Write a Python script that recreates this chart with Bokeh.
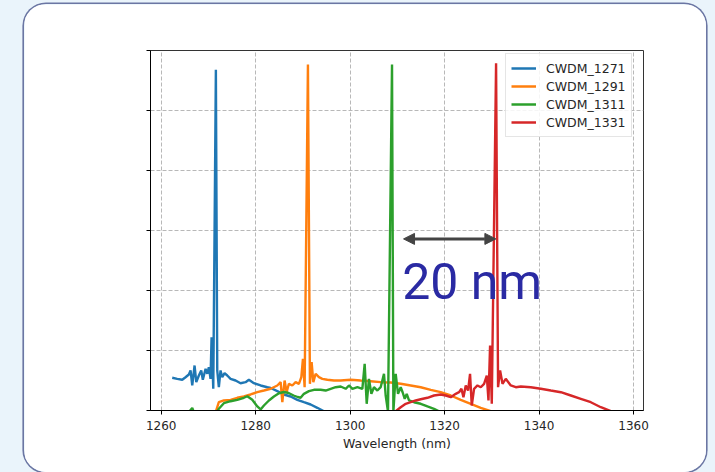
from bokeh.plotting import figure
from bokeh.models import (Arrow, NormalHead, Label, Legend, LegendItem,
                          FixedTicker, Range1d, GlobalInlineStyleSheet)
from bokeh.embed import file_html
from bokeh.resources import INLINE

# ---------------- data ----------------
wl_1271 = [1262.33, 1263.39, 1264.45, 1265.15, 1265.85, 1266.21, 1266.57, 1267.06, 1267.42, 1267.97,
           1268.47, 1268.81, 1269.39, 1269.75, 1270.08, 1270.44, 1270.66, 1271.02, 1271.57, 1271.86,
           1272.2, 1272.56, 1272.92, 1273.41, 1273.98, 1274.68, 1275.74, 1276.8, 1277.86, 1278.56,
           1279.62, 1281.04, 1282.46, 1283.16, 1284.58, 1285.97, 1287.39, 1288.81, 1290.21, 1291.63,
           1293.05, 1294.45, 1295.87]
pw_1271 = [0.545, 0.528, 0.512, 0.555, 0.6, 0.667, 0.417, 0.75, 0.472, 0.583,
           0.667, 0.512, 0.695, 0.612, 0.722, 0.528, 1.222, 0.362, 5.678, 0.667,
           0.388, 0.667, 0.555, 0.622, 0.583, 0.528, 0.5, 0.455, 0.472, 0.512,
           0.455, 0.417, 0.388, 0.375, 0.322, 0.267, 0.233, 0.178, 0.138, 0.1,
           0.045, -0.012, -0.07]

wl_1291 = [1271.5, 1272.2, 1273.26, 1274.68, 1276.1, 1277.5, 1278.92, 1280.34, 1281.74, 1283.16,
           1284.58, 1285.28, 1285.64, 1286.12, 1286.55, 1287.03, 1287.75, 1288.45, 1289.15, 1289.66,
           1290.0, 1290.36, 1291.06, 1291.48, 1291.84, 1292.2, 1292.69, 1293.39, 1294.11, 1295.17,
           1296.57, 1297.99, 1300.11, 1302.22, 1304.34, 1306.46, 1308.58, 1310.7, 1312.82, 1314.94,
           1317.06, 1319.17, 1321.29, 1323.41, 1325.53, 1327.65, 1329.77, 1331.25]
pw_1291 = [-0.033, 0.138, 0.167, 0.178, 0.212, 0.233, 0.267, 0.305, 0.333, 0.362,
           0.417, 0.472, 0.138, 0.5, 0.305, 0.445, 0.417, 0.472, 0.445, 0.555,
           0.862, 0.388, 5.767, 0.445, 0.805, 0.472, 0.612, 0.555, 0.528, 0.512,
           0.5, 0.5, 0.512, 0.5, 0.488, 0.472, 0.467, 0.445, 0.417, 0.388,
           0.345, 0.305, 0.25, 0.178, 0.112, 0.045, -0.012, -0.07]

wl_1311 = [1265.78, 1266.57, 1267.27, 1271.5, 1272.2, 1273.26, 1274.68, 1276.1, 1277.5, 1278.22,
           1279.28, 1280.34, 1281.04, 1281.74, 1282.8, 1283.86, 1284.92, 1285.97, 1286.97, 1288.03,
           1288.88, 1289.51, 1290.21, 1291.27, 1292.33, 1293.75, 1294.81, 1295.87, 1296.93, 1297.99,
           1299.05, 1299.75, 1300.47, 1301.53, 1302.58, 1303.07, 1303.5, 1303.98, 1304.49, 1305.04,
           1305.76, 1306.46, 1307.16, 1307.52, 1308.01, 1308.86, 1309.15, 1309.64, 1310.13, 1310.7,
           1311.12, 1311.55, 1311.97, 1312.46, 1313.52, 1314.94, 1316.36, 1317.75, 1318.81, 1320.23]
pw_1311 = [-0.033, 0.042, -0.1, -0.05, 0.028, 0.122, 0.155, 0.178, 0.212, 0.238,
           0.178, 0.067, 0.017, 0.083, 0.167, 0.233, 0.288, 0.308, 0.292, 0.25,
           0.225, 0.212, 0.278, 0.322, 0.345, 0.345, 0.333, 0.362, 0.388, 0.4,
           0.362, 0.417, 0.362, 0.388, 0.362, 0.778, 0.112, 0.528, 0.278, 0.388,
           0.333, 0.388, 0.612, 0.25, -0.017, 5.767, -0.017, 0.612, 0.278, 0.388,
           0.3, 0.195, 0.278, 0.167, 0.138, 0.112, 0.067, 0.028, -0.012, -0.07]

wl_1331 = [1309.64, 1310.7, 1311.76, 1312.82, 1313.88, 1314.94, 1316.36, 1317.75, 1319.17, 1320.23,
           1321.29, 1322.35, 1323.05, 1323.56, 1323.98, 1324.47, 1324.96, 1325.38, 1325.74, 1326.23,
           1326.95, 1327.65, 1328.35, 1328.92, 1329.28, 1329.62, 1329.98, 1330.89, 1331.31, 1331.74,
           1332.25, 1332.94, 1334.0, 1335.06, 1336.12, 1338.24, 1340.36, 1342.48, 1344.6, 1346.72,
           1348.83, 1350.95, 1353.07, 1355.19, 1356.25]
pw_1331 = [-0.012, 0.055, 0.112, 0.138, 0.167, 0.188, 0.212, 0.25, 0.267, 0.25,
           0.222, 0.278, 0.305, 0.362, 0.222, 0.417, 0.333, 0.612, 0.083, 0.362,
           0.417, 0.388, 0.445, 0.583, 0.167, 1.083, 0.112, 5.788, 0.388, 0.667,
           0.445, 0.528, 0.417, 0.388, 0.4, 0.388, 0.362, 0.333, 0.305, 0.25,
           0.195, 0.138, 0.055, -0.012, -0.07]

series_names = ["CWDM_1271", "CWDM_1291", "CWDM_1311", "CWDM_1331"]
series_colors = ["#1f77b4", "#ff7f0e", "#2ca02c", "#d62728"]
series_x = [wl_1271, wl_1291, wl_1311, wl_1331]
series_y = [pw_1271, pw_1291, pw_1311, pw_1331]

x_ticks = [1260, 1280, 1300, 1320, 1340, 1360]
y_ticks = [0, 1, 2, 3, 4, 5, 6]
x_label = "Wavelength (nm)"

spacing_label = "20 nm"
arrow_x0, arrow_x1, arrow_y = 1311.3, 1330.85, 2.86
label_x, label_y = 1311.0, 2.15

# ---------------- figure (the figure itself is the rounded card) ----------------
p = figure(frame_width=493, frame_height=360,
           x_range=Range1d(1257.73, 1362.1), y_range=Range1d(0, 6),
           output_backend="svg", toolbar_location=None,
           min_border_left=126, min_border_right=63, min_border_top=46, min_border_bottom=62)
p.stylesheets.append(GlobalInlineStyleSheet(css="html, body { background: #eaf4fb; }"))
p.styles = {"margin-left": "24px", "margin-top": "4px",
            "border-radius": "22px", "overflow": "hidden",
            "box-shadow": "0 0 0 1.6px #6b76a3"}

p.border_fill_color = "white"
p.background_fill_color = "white"
p.outline_line_color = "#333333"
p.outline_line_width = 1

# grid
p.xgrid.ticker = FixedTicker(ticks=x_ticks)
p.ygrid.ticker = FixedTicker(ticks=y_ticks)
p.grid.grid_line_color = "#b0b0b0"
p.grid.grid_line_dash = "4 2"
p.grid.grid_line_width = 0.9

# axes
p.xaxis.ticker = FixedTicker(ticks=x_ticks)
p.yaxis.ticker = FixedTicker(ticks=y_ticks)
for ax in (p.xaxis[0], p.yaxis[0]):
    ax.axis_line_color = "black"
    ax.axis_line_width = 1
    ax.major_tick_line_color = "black"
    ax.major_tick_in = 0
    ax.major_tick_out = 4
    ax.minor_tick_line_color = None
    ax.major_label_text_font = "DejaVu Sans"
    ax.major_label_text_font_size = "12px"
    ax.major_label_text_color = "#262626"
p.yaxis.major_label_text_color = None
p.xaxis.major_label_standoff = 6
p.xaxis.axis_label = x_label
p.xaxis.axis_label_text_font = "DejaVu Sans"
p.xaxis.axis_label_text_font_size = "12.5px"
p.xaxis.axis_label_text_font_style = "normal"
p.xaxis.axis_label_text_color = "#262626"
p.xaxis.axis_label_standoff = 3

# lines
items = []
for name, color, xs, ys in zip(series_names, series_colors, series_x, series_y):
    r = p.line(xs, ys, line_color=color, line_width=2.4)
    items.append(LegendItem(label=name, renderers=[r]))

legend = Legend(items=items, location=(355, 273))
legend.label_text_font = "DejaVu Sans"
legend.label_text_font_size = "12.5px"
legend.label_text_color = "#262626"
legend.glyph_width = 25
legend.glyph_height = 18
legend.label_height = 18
legend.label_standoff = 10
legend.spacing = 0
legend.padding = 5
legend.margin = 0
legend.border_line_color = "#cccccc"
legend.border_line_width = 1
legend.background_fill_alpha = 0.85
p.add_layout(legend, "center")

# annotation arrow and label
arrow = Arrow(x_start=arrow_x0, y_start=arrow_y, x_end=arrow_x1, y_end=arrow_y,
              line_color="#444444", line_width=3,
              start=NormalHead(size=11, fill_color="#444444", line_color="#444444"),
              end=NormalHead(size=11, fill_color="#444444", line_color="#444444"))
p.add_layout(arrow)

lab = Label(x=label_x, y=label_y, text=spacing_label, text_font="Roboto",
            text_font_size="50px", text_color="#2a2aa3", text_baseline="middle")
p.add_layout(lab)

open("out.html", "w").write(file_html(p, INLINE))
